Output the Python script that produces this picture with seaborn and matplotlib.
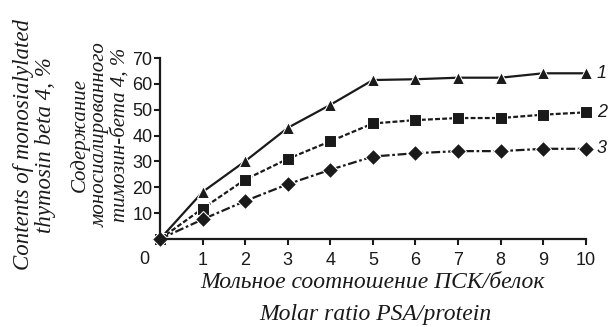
import pandas as pd
import matplotlib
matplotlib.use('Agg')
import matplotlib.pyplot as plt
import seaborn as sns

# Data
ratio = [0, 1, 2, 3, 4, 5, 6, 7, 8, 9, 10]
curve_1 = [0, 18.2, 30.1, 43.0, 51.9, 61.5, 61.8, 62.4, 62.4, 64.1, 64.1]
curve_2 = [0, 11.8, 23.0, 31.0, 37.8, 44.7, 46.0, 46.8, 46.8, 48.1, 49.0]
curve_3 = [0, 7.6, 14.7, 21.2, 26.8, 31.9, 33.2, 34.0, 34.0, 34.9, 34.9]
series_names = ['1', '2', '3']
x_ticks = [1, 2, 3, 4, 5, 6, 7, 8, 9, 10]
y_ticks = [10, 20, 30, 40, 50, 60, 70]

df = pd.DataFrame({
    'ratio': ratio * 3,
    'value': curve_1 + curve_2 + curve_3,
    'series': [s for s in series_names for _ in ratio],
})

sns.set_style('ticks')
plt.rcParams['font.family'] = ['Liberation Sans', 'DejaVu Sans']

fig = plt.figure(figsize=(6.1, 3.27), dpi=100)
ax = fig.add_axes([0.2623, 0.269, 0.698, 0.5535])

ink = '#1a1a1a'
sns.lineplot(
    data=df, x='ratio', y='value', style='series', color=ink,
    markers={'1': '^', '2': 's', '3': 'D'},
    dashes={'1': '', '2': (2.2, 1.0), '3': (4, 1.2, 1.2, 1.2)},
    markersize=8, linewidth=1.6, legend=False, ax=ax, clip_on=False,
)

ax.set_xlim(0, 10)
ax.set_ylim(0, 70)
ax.set_xticks(x_ticks)
ax.set_yticks(y_ticks)
ax.tick_params(axis='both', labelsize=13, colors=ink, width=1.5, length=4)
ax.tick_params(axis='x', pad=5)
ax.tick_params(axis='y', pad=1.5)
for side in ['top', 'right']:
    ax.spines[side].set_visible(False)
for side in ['left', 'bottom']:
    ax.spines[side].set_linewidth(1.6)
    ax.spines[side].set_color(ink)

# shared origin label
ax.annotate('0', xy=(0, 0), xycoords='data', xytext=(-11, -15),
            textcoords='offset points', ha='center', va='center', fontsize=13, color=ink)

# curve numbers at right end
for name, vals in zip(series_names, [curve_1, curve_2, curve_3]):
    ax.annotate(name, xy=(ratio[-1], vals[-1]), xytext=(8, 0), textcoords='offset points',
                ha='left', va='center', fontsize=13, style='italic', color=ink,
                annotation_clip=False)

ax.set_xlabel('')
ax.set_ylabel('')

serif = ['Liberation Serif', 'DejaVu Serif']
fig.text(0.611, 0.135, 'Мольное соотношение ПСК/белок', ha='center', va='center',
         fontsize=17, style='italic', family=serif, color=ink)
fig.text(0.615, 0.037, 'Molar ratio PSA/protein', ha='center', va='center',
         fontsize=17, style='italic', family=serif, color=ink)
fig.text(0.057, 0.557, 'Contents of monosialylated\nthymosin beta 4, %', ha='center',
         va='center', rotation=90, fontsize=16.5, style='italic', family=serif,
         color=ink, linespacing=1.05)
fig.text(0.164, 0.587, 'Содержание\nмоносиалированного\nтимозин-бета 4, %', ha='center',
         va='center', rotation=90, fontsize=15, style='italic', family=serif,
         color=ink, linespacing=1.05)

fig.savefig('out.png', dpi=100)
